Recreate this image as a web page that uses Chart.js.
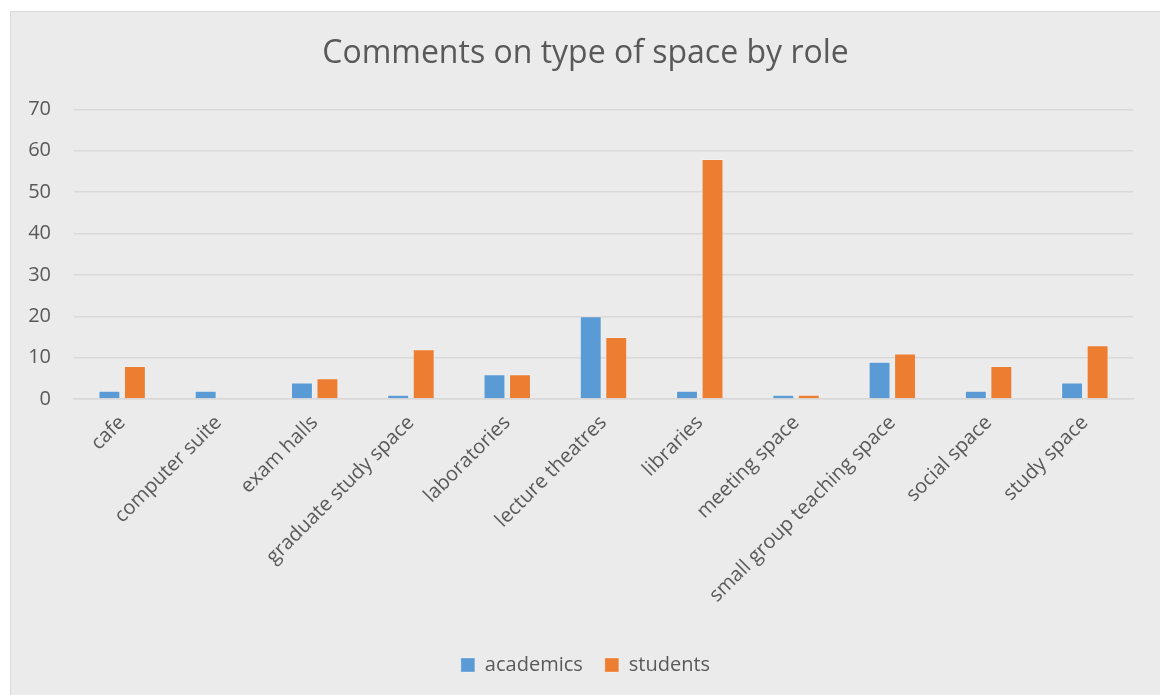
<!DOCTYPE html>
<html>
<head>
<meta charset="utf-8">
<script src="https://cdn.jsdelivr.net/npm/chart.js@4"></script>
<style>
  html, body { margin: 0; padding: 0; background: #fff; overflow: hidden; }
  #marco {
    position: absolute; left: 10px; top: 11px;
    width: 1200px; height: 740px;
    border: 1px solid #d9d9d9; background: #ebebeb;
  }
  #grafico { display: block; }
</style>
</head>
<body>
<div id="marco"><canvas id="grafico" width="1149" height="683"></canvas></div>
<script>
// Datos del gráfico
const categorias = ['cafe', 'computer suite', 'exam halls', 'graduate study space', 'laboratories',
  'lecture theatres', 'libraries', 'meeting space', 'small group teaching space', 'social space', 'study space'];
const academicos = [2, 2, 4, 1, 6, 20, 2, 1, 9, 2, 4];
const estudiantes = [8, 0, 5, 12, 6, 15, 58, 1, 11, 8, 13];
const nombresSeries = ['academics', 'students'];
const titulo = 'Comments on type of space by role';
const ejeY = { min: 0, max: 70, paso: 10 };

const colores = {
  azul: '#5b9bd5',
  naranja: '#ed7d31',
  texto: '#595959',
  rejilla: '#d9d9d9'
};
const fuente = '"Open Sans", sans-serif';

new Chart(document.getElementById('grafico').getContext('2d'), {
  type: 'bar',
  data: {
    labels: categorias,
    datasets: [{
      label: nombresSeries[0],
      data: academicos,
      backgroundColor: colores.azul,
      borderColor: 'rgba(255,255,255,0.3)',
      borderWidth: 1,
      categoryPercentage: 0.53,
      barPercentage: 0.86
    }, {
      label: nombresSeries[1],
      data: estudiantes,
      backgroundColor: colores.naranja,
      borderColor: 'rgba(255,255,255,0.3)',
      borderWidth: 1,
      categoryPercentage: 0.53,
      barPercentage: 0.86
    }]
  },
  options: {
    responsive: false,
    animation: false,
    layout: { padding: { left: 0, right: 0, top: 0, bottom: 10 } },
    plugins: {
      title: {
        display: true,
        text: titulo,
        color: colores.texto,
        font: { family: fuente, size: 32, weight: 'normal' },
        padding: { top: 23, bottom: 36 }
      },
      legend: {
        position: 'bottom',
        labels: {
          color: colores.texto,
          font: { family: fuente, size: 20 },
          boxWidth: 14,
          boxHeight: 14,
          padding: 22
        }
      },
      tooltip: { enabled: false }
    },
    scales: {
      x: {
        grid: { display: false, drawTicks: false },
        border: { display: true, color: colores.rejilla, width: 1.5 },
        ticks: {
          color: colores.texto,
          font: { family: fuente, size: 20 },
          maxRotation: 45,
          minRotation: 45,
          padding: 12,
          autoSkip: false
        },
        afterFit: function(escala) { escala.height = 234; }
      },
      y: {
        min: ejeY.min,
        max: ejeY.max,
        grid: { color: colores.rejilla, lineWidth: 1.5, drawTicks: false },
        border: { display: false },
        ticks: {
          stepSize: ejeY.paso,
          color: colores.texto,
          font: { family: fuente, size: 20 },
          padding: 23
        },
        afterFit: function(escala) { escala.width = 63; }
      },
      // eje vacío a la derecha: deja el margen derecho y centra título y leyenda
      margenDer: {
        position: 'right',
        grid: { display: false, drawTicks: false },
        border: { display: false },
        ticks: { display: false },
        afterFit: function(escala) { escala.width = 27; }
      }
    }
  }
});
</script>
</body>
</html>
